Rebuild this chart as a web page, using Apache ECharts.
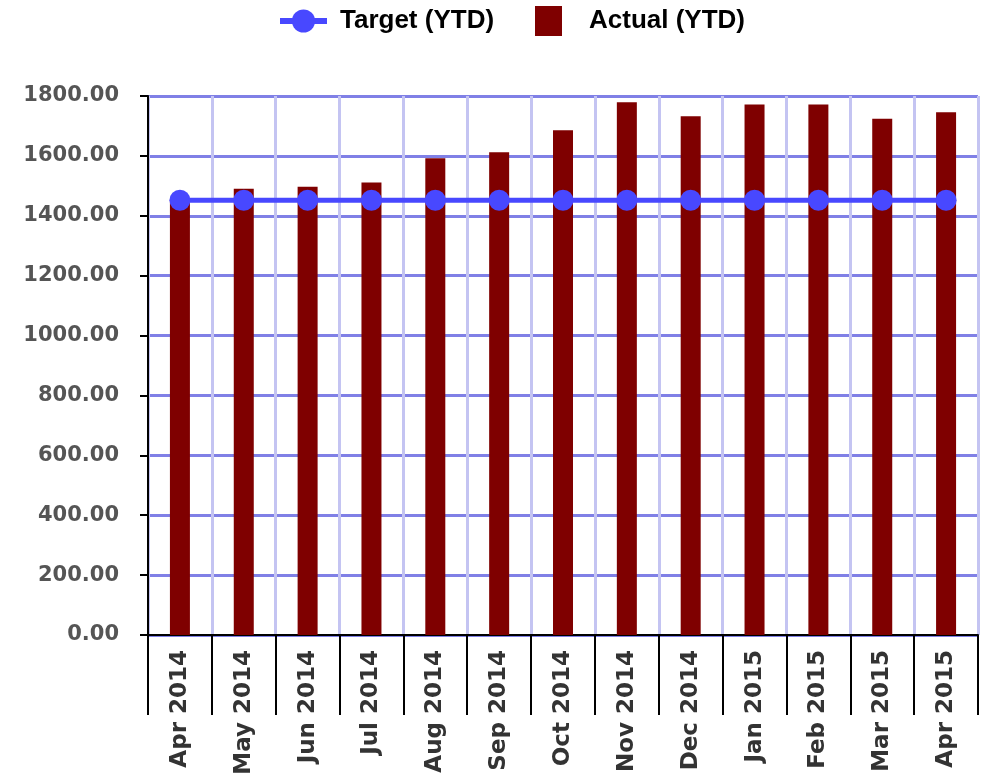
<!DOCTYPE html>
<html>
<head>
<meta charset="utf-8">
<script src="https://cdn.jsdelivr.net/npm/echarts@6/dist/echarts.min.js"></script>
<style>
  html, body { margin: 0; padding: 0; background: #ffffff; }
  #chart { width: 985px; height: 780px; }
</style>
</head>
<body>
<div id="chart"></div>
<script>
// Monthly year-to-date figures
const months = ['Apr 2014', 'May 2014', 'Jun 2014', 'Jul 2014', 'Aug 2014', 'Sep 2014', 'Oct 2014',
                'Nov 2014', 'Dec 2014', 'Jan 2015', 'Feb 2015', 'Mar 2015', 'Apr 2015'];
const actualYtd = [1455, 1490, 1497, 1511, 1592, 1612, 1686, 1779, 1732, 1772, 1772, 1724, 1746];
const targetYtd = [1452, 1452, 1452, 1452, 1452, 1452, 1452, 1452, 1452, 1452, 1452, 1452, 1452];
const yTicks = { min: 0, max: 1800, interval: 200 };

const LEGEND_FONT = '"Liberation Sans", Arial, sans-serif';
const AXIS_FONT = '"DejaVu Sans", Verdana, sans-serif';
const chart = echarts.init(document.getElementById('chart'), null, { renderer: 'canvas' });

chart.setOption({
  animation: false,
  backgroundColor: '#ffffff',
  legend: [
    {
      data: ['Target (YTD)'],
      left: 277, top: 8, padding: 0,
      itemWidth: 47, itemHeight: 29,
      lineStyle: { width: 6 },
      textStyle: {
        fontFamily: LEGEND_FONT, fontWeight: 'bold', fontSize: 26, color: '#000',
        padding: [0, 0, 0, 8]
      }
    },
    {
      data: [{ name: 'Actual (YTD)', icon: 'rect' }],
      left: 535, top: 6, padding: 0,
      itemWidth: 27, itemHeight: 30,
      textStyle: {
        fontFamily: LEGEND_FONT, fontWeight: 'bold', fontSize: 26, color: '#000',
        padding: [0, 0, 0, 22]
      }
    }
  ],
  grid: { left: 148, right: 7, top: 96, bottom: 145, containLabel: false },
  xAxis: {
    type: 'category',
    data: months,
    boundaryGap: true,
    axisLine: { show: true, lineStyle: { color: '#000', width: 2 } },
    axisTick: { show: true, length: 80, alignWithLabel: false, lineStyle: { color: '#000', width: 2 } },
    axisLabel: {
      rotate: 90, interval: 0, margin: 15,
      fontFamily: AXIS_FONT, fontWeight: 'bold', fontSize: 23, color: '#333'
    },
    splitLine: { show: true, interval: 0, lineStyle: { color: '#c4c4f2', width: 3 } }
  },
  yAxis: {
    type: 'value',
    min: yTicks.min, max: yTicks.max, interval: yTicks.interval,
    axisLine: { show: true, lineStyle: { color: '#000', width: 2 } },
    axisTick: { show: true, length: 8, lineStyle: { color: '#000', width: 2 } },
    axisLabel: {
      margin: 29,
      formatter: v => v.toFixed(2),
      fontFamily: AXIS_FONT, fontWeight: 'bold', fontSize: 21, color: '#555'
    },
    splitLine: { show: true, lineStyle: { color: '#8080e6', width: 3 } }
  },
  series: [
    {
      name: 'Actual (YTD)',
      type: 'bar',
      data: actualYtd,
      barWidth: 20,
      itemStyle: { color: '#7f0000' },
      z: 2
    },
    {
      name: 'Target (YTD)',
      type: 'line',
      data: targetYtd,
      symbol: 'circle',
      symbolSize: 21,
      showAllSymbol: true,
      lineStyle: { color: '#4848ff', width: 5 },
      itemStyle: { color: '#4848ff' },
      z: 3
    }
  ]
});
</script>
</body>
</html>
